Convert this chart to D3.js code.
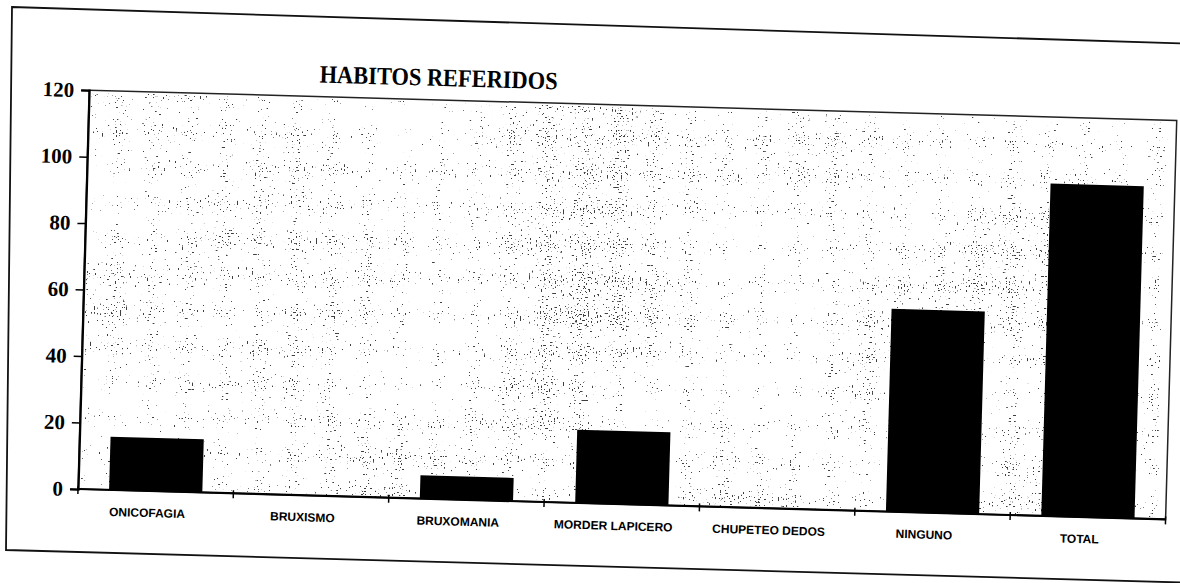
<!DOCTYPE html>
<html>
<head>
<meta charset="utf-8">
<script src="https://cdn.jsdelivr.net/npm/d3@7/dist/d3.min.js"></script>
<style>
  html, body { margin: 0; padding: 0; background: #fff; }
  svg { display: block; }
</style>
</head>
<body>
<svg id="chart" width="1180" height="583"></svg>
<script>
const categories = ["ONICOFAGIA", "BRUXISMO", "BRUXOMANIA", "MORDER LAPICERO", "CHUPETEO DEDOS", "NINGUNO", "TOTAL"];
const values = [16, 0, 7, 22, 0, 61, 100];
const yTicks = [0, 20, 40, 60, 80, 100, 120];
const titleText = "HABITOS REFERIDOS";

const svg = d3.select("#chart");

// plot geometry (before the slight scan tilt)
const x0 = 78, yBase = 489, plotW = 1088, plotH = 399;
const tilt = 1.6;

const defs = svg.append("defs");
const f = defs.append("filter").attr("id", "speckle")
  .attr("x", 0).attr("y", 0).attr("width", 1).attr("height", 1)
  .attr("color-interpolation-filters", "sRGB");
f.append("feTurbulence").attr("type", "fractalNoise")
  .attr("baseFrequency", 0.65).attr("numOctaves", 1).attr("seed", 11).attr("result", "hi");
f.append("feColorMatrix").attr("in", "hi").attr("type", "matrix")
  .attr("values", "0 0 0 0 0  0 0 0 0 0  0 0 0 0 0  1 0 0 0 0").attr("result", "hiA");
f.append("feTurbulence").attr("type", "fractalNoise")
  .attr("baseFrequency", 0.006).attr("numOctaves", 2).attr("seed", 4).attr("result", "lo");
f.append("feColorMatrix").attr("in", "lo").attr("type", "matrix")
  .attr("values", "0 0 0 0 0  0 0 0 0 0  0 0 0 0 0  1 0 0 0 0").attr("result", "loA");
f.append("feComposite").attr("in", "hiA").attr("in2", "loA").attr("operator", "arithmetic")
  .attr("k1", 0).attr("k2", 1).attr("k3", 0.15).attr("k4", 0).attr("result", "mix");
f.append("feColorMatrix").attr("in", "mix").attr("type", "matrix")
  .attr("values", "0 0 0 0 0  0 0 0 0 0  0 0 0 0 0  0 0 0 28 -19.9");

// outer frame (scanned page border)
svg.append("path")
  .attr("d", d3.line()([[12, 7], [1200, 44], [1200, 583], [6, 550]]) + "Z")
  .attr("fill", "none").attr("stroke", "#111").attr("stroke-width", 1.8);

const g = svg.append("g").attr("transform", `rotate(${tilt}, ${x0}, ${yBase})`);

// title
g.append("text")
  .attr("x", 427).attr("y", 76)
  .attr("text-anchor", "middle")
  .attr("font-family", "'Liberation Serif', 'Times New Roman', serif")
  .attr("font-weight", "bold")
  .attr("font-size", 25)
  .attr("textLength", 238).attr("lengthAdjust", "spacingAndGlyphs")
  .attr("fill", "#000")
  .text(titleText);

const x = d3.scaleBand().domain(categories).range([x0, x0 + plotW]).paddingInner(0.4).paddingOuter(0.2);
const y = d3.scaleLinear().domain([0, 120]).range([yBase, yBase - plotH]);

// plot background speckle
g.append("rect")
  .attr("x", x0 + 2).attr("y", yBase - plotH + 2).attr("width", plotW - 10).attr("height", plotH - 2)
  .attr("fill", "#000").attr("filter", "url(#speckle)").attr("opacity", 0.75);

// plot border
g.append("rect")
  .attr("x", x0).attr("y", yBase - plotH).attr("width", plotW).attr("height", plotH)
  .attr("fill", "none").attr("stroke", "#222").attr("stroke-width", 1.5);

// bars
g.append("g").selectAll("rect").data(values).join("rect")
  .attr("x", (d, i) => x(categories[i]))
  .attr("width", x.bandwidth())
  .attr("y", d => y(d))
  .attr("height", d => y(0) - y(d))
  .attr("fill", "#000");

// y axis
const yAxis = g.append("g").attr("transform", `translate(${x0},0)`)
  .call(d3.axisLeft(y).tickValues(yTicks).tickSize(8).tickPadding(7).tickFormat(d3.format("d")));
yAxis.select(".domain").attr("stroke", "#000").attr("stroke-width", 2.2);
yAxis.selectAll(".tick line").attr("stroke", "#000").attr("stroke-width", 1.5);
yAxis.selectAll(".tick text")
  .attr("font-family", "'Liberation Serif', 'Times New Roman', serif")
  .attr("font-weight", "bold").attr("font-size", 21).attr("fill", "#000");

// x axis
const boundaries = d3.range(categories.length + 1).map(i => x0 + i * (plotW / categories.length));
const xg = g.append("g");
xg.append("line")
  .attr("x1", x0).attr("x2", x0 + plotW).attr("y1", yBase).attr("y2", yBase)
  .attr("stroke", "#000").attr("stroke-width", 2.2);
xg.selectAll("line.tk").data(boundaries).join("line").attr("class", "tk")
  .attr("x1", d => d).attr("x2", d => d).attr("y1", yBase - 3).attr("y2", yBase + 5)
  .attr("stroke", "#000").attr("stroke-width", 1.5);
xg.selectAll("text").data(categories).join("text")
  .attr("x", d => x(d) + x.bandwidth() / 2 - 8)
  .attr("y", yBase + 26)
  .attr("text-anchor", "middle")
  .attr("font-family", "'Liberation Sans', Arial, sans-serif")
  .attr("font-weight", "bold").attr("font-size", 12).attr("fill", "#000")
  .text(d => d);
</script>
</body>
</html>
